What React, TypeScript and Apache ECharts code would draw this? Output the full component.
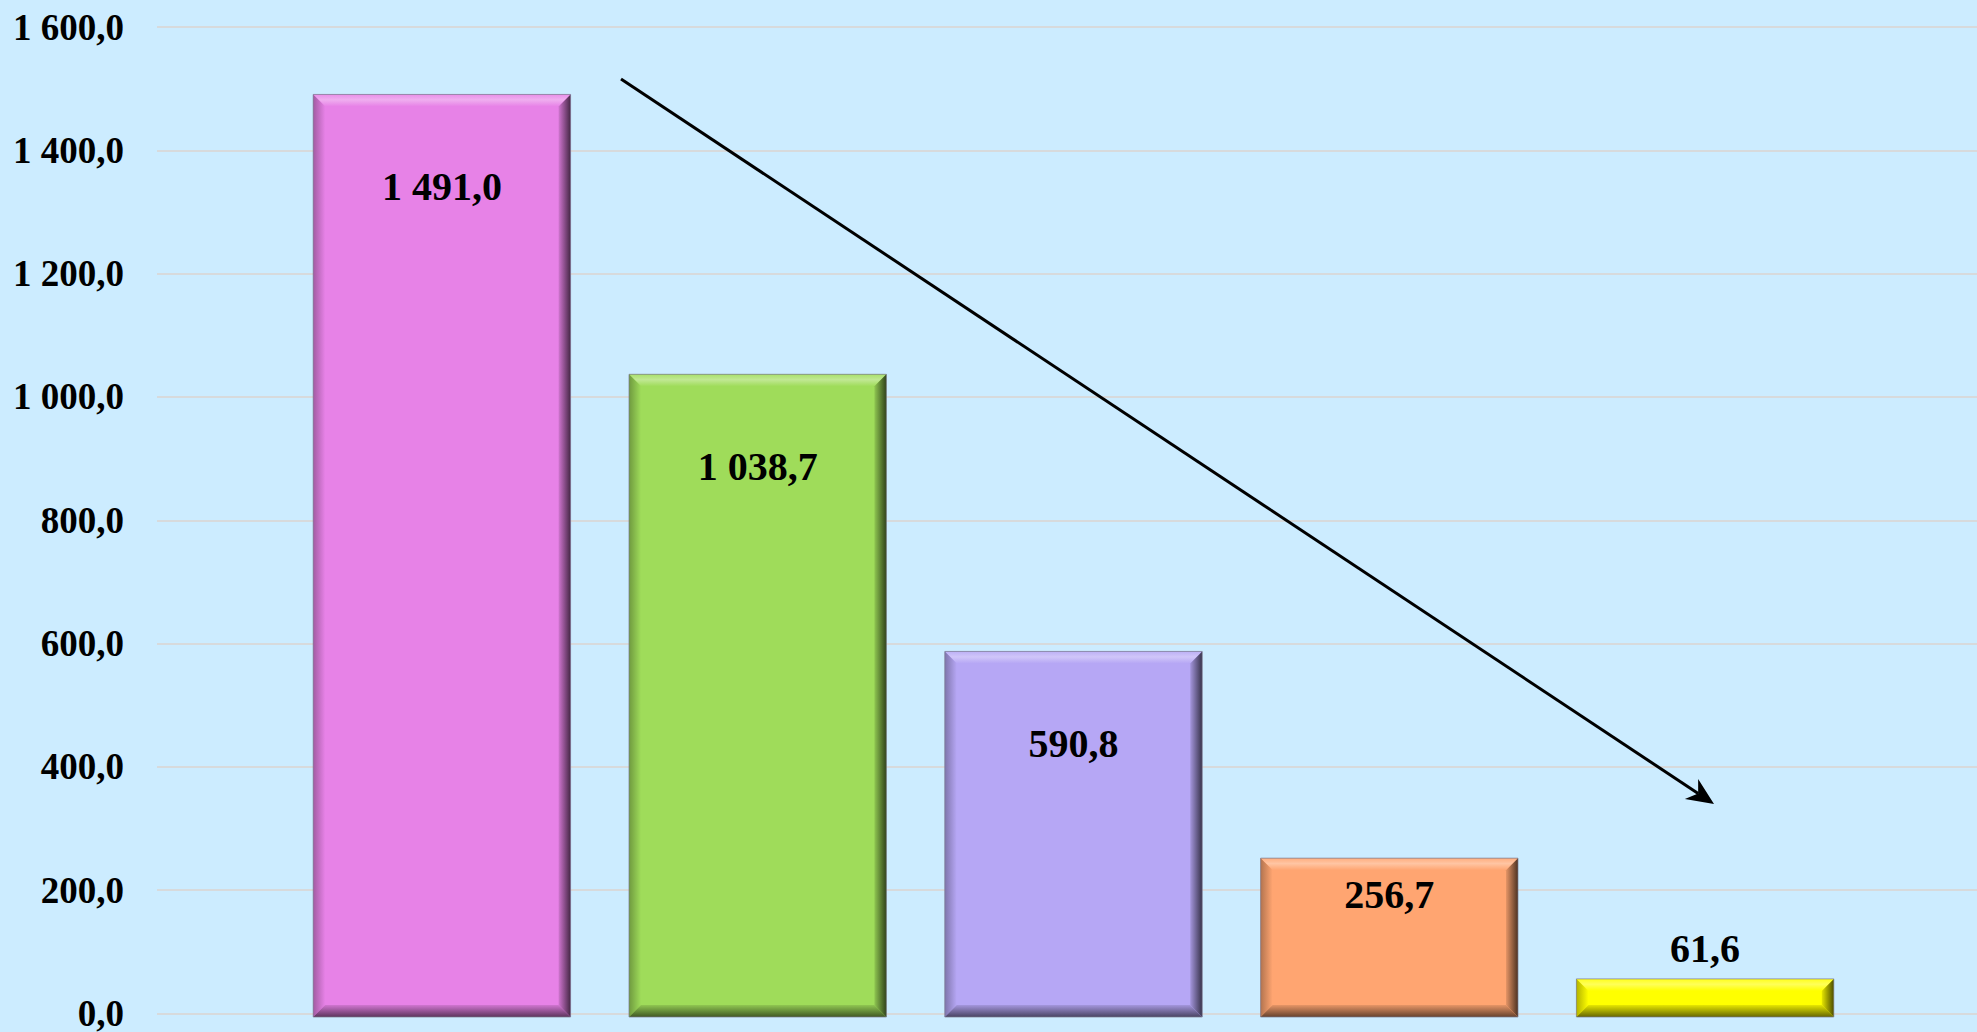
import React, { useEffect, useRef } from "react";
import * as echarts from "echarts";

const categories = ["A", "B", "C", "D", "E"];
const values = [1491.0, 1038.7, 590.8, 256.7, 61.6];
const barColors = ["#E782E7", "#9FDC5A", "#B6A7F5", "#FFA571", "#FFFF00"];
const yTicks = [0, 200, 400, 600, 800, 1000, 1200, 1400, 1600];

function fmt(v: number): string {
  const s = v.toFixed(1);
  const [ip, dp] = s.split(".");
  const withSp = ip.replace(/\B(?=(\d{3})+(?!\d))/g, " ");
  return withSp + "," + dp;
}

function hexToRgb(h: string): number[] {
  const x = h.replace("#", "");
  return [0, 2, 4].map((i) => parseInt(x.substr(i, 2), 16));
}
function mix(c: string, target: number[], t: number): string {
  const a = hexToRgb(c);
  const r = a.map((v, i) => Math.round(v + (target[i] - v) * t));
  return `rgb(${r[0]},${r[1]},${r[2]})`;
}
const lighten = (c: string, t: number) => mix(c, [255, 255, 255], t);
const darken = (c: string, t: number) => mix(c, [0, 0, 0], t);

export default function App() {
  const ref = useRef<HTMLDivElement>(null);
  useEffect(() => {
    if (!ref.current) return;
    const chart = echarts.init(ref.current, undefined, { renderer: "svg" });
    const font = "Liberation Serif, Times New Roman, serif";

    // arrow geometry (annotation)
    const sx = 621, sy = 79, tx = 1714, ty = 804;
    const dx = tx - sx, dy = ty - sy;
    const len = Math.sqrt(dx * dx + dy * dy);
    const ux = dx / len, uy = dy / len;
    const nx = -uy, ny = ux;
    const L = 27, W = 12, N = 19;
    const head = [
      [tx, ty],
      [tx - L * ux + W * nx, ty - L * uy + W * ny],
      [tx - N * ux, ty - N * uy],
      [tx - L * ux - W * nx, ty - L * uy - W * ny],
    ];

    const renderItem = (params: any, api: any) => {
      const idx = api.value(0);
      const val = api.value(1);
      const color = barColors[params.dataIndex];
      const top = api.coord([idx, val]);
      const bot = api.coord([idx, 0]);
      const bw = api.size([1, 0])[0] * 0.815;
      const x0 = top[0] - bw / 2;
      const x1 = top[0] + bw / 2;
      const y0 = top[1];
      const y1 = bot[1];
      const h = y1 - y0;
      const b = Math.min(12, h / 3);
      const lin = (x: number, y: number, x2: number, y2: number, stops: any[]) =>
        new echarts.graphic.LinearGradient(x, y, x2, y2, stops);
      let labelY: number;
      if (h > 300) labelY = y0 + 92;
      else if (h > 100) labelY = y0 + 36;
      else labelY = y0 - 30;
      return {
        type: "group",
        children: [
          { type: "rect", shape: { x: x0, y: y0, width: bw, height: h }, style: { fill: color } },
          {
            type: "polygon",
            shape: { points: [[x0, y0], [x1, y0], [x1 - b, y0 + b], [x0 + b, y0 + b]] },
            style: {
              fill: lin(0, 0, 0, 1, [
                { offset: 0, color: lighten(color, 0.1) },
                { offset: 0.45, color: lighten(color, 0.35) },
                { offset: 1, color: color },
              ]),
            },
          },
          {
            type: "polygon",
            shape: { points: [[x0, y0], [x0 + b, y0 + b], [x0 + b, y1 - b], [x0, y1]] },
            style: {
              fill: lin(0, 0, 1, 0, [
                { offset: 0, color: darken(color, 0.3) },
                { offset: 1, color: color },
              ]),
            },
          },
          {
            type: "polygon",
            shape: { points: [[x1, y0], [x1, y1], [x1 - b, y1 - b], [x1 - b, y0 + b]] },
            style: {
              fill: lin(0, 0, 1, 0, [
                { offset: 0, color: darken(color, 0.1) },
                { offset: 1, color: darken(color, 0.7) },
              ]),
            },
          },
          {
            type: "polygon",
            shape: { points: [[x0, y1], [x1, y1], [x1 - b, y1 - b], [x0 + b, y1 - b]] },
            style: {
              fill: lin(0, 0, 0, 1, [
                { offset: 0, color: darken(color, 0.1) },
                { offset: 1, color: darken(color, 0.6) },
              ]),
            },
          },
          {
            type: "rect",
            shape: { x: x0, y: y0, width: bw, height: h },
            style: { fill: "none", stroke: "rgba(120,120,140,0.7)", lineWidth: 1 },
          },
          {
            type: "text",
            style: {
              x: top[0],
              y: labelY,
              text: fmt(val),
              fill: "#000",
              font: `bold 40px ${font}`,
              align: "center",
              verticalAlign: "middle",
            },
          },
        ],
      };
    };

    chart.setOption({
      animation: false,
      backgroundColor: "#CCECFF",
      grid: [
        { left: 157, right: 0, top: 27, bottom: 15 },
        { left: 284, right: 114, top: 27, bottom: 15 },
      ],
      xAxis: [
        { type: "category", gridIndex: 0, data: categories, show: false },
        { type: "category", gridIndex: 1, data: categories, show: false },
      ],
      yAxis: [
        {
          type: "value",
          gridIndex: 0,
          min: yTicks[0],
          max: yTicks[yTicks.length - 1],
          interval: 200,
          axisLine: { show: false },
          axisTick: { show: false },
          splitLine: { lineStyle: { color: "#D7DADC", width: 2 } },
          axisLabel: {
            margin: 33,
            color: "#000",
            fontFamily: font,
            fontWeight: "bold",
            fontSize: 37,
            formatter: (v: number) => fmt(v),
          },
        },
        {
          type: "value",
          gridIndex: 1,
          min: yTicks[0],
          max: yTicks[yTicks.length - 1],
          interval: 200,
          show: false,
          splitLine: { show: false },
        },
      ],
      series: [
        {
          type: "custom",
          xAxisIndex: 1,
          yAxisIndex: 1,
          renderItem,
          data: values.map((v, i) => [i, v]),
        },
      ],
      graphic: [
        {
          type: "line",
          shape: { x1: sx, y1: sy, x2: tx - N * ux, y2: ty - N * uy },
          style: { stroke: "#000", lineWidth: 3 },
          z: 100,
        },
        {
          type: "polygon",
          shape: { points: head },
          style: { fill: "#000" },
          z: 100,
        },
      ],
    });
    return () => chart.dispose();
  }, []);
  return (
    <div
      ref={ref}
      style={{ position: "absolute", left: 0, top: 0, width: 1977, height: 1032 }}
    />
  );
}
